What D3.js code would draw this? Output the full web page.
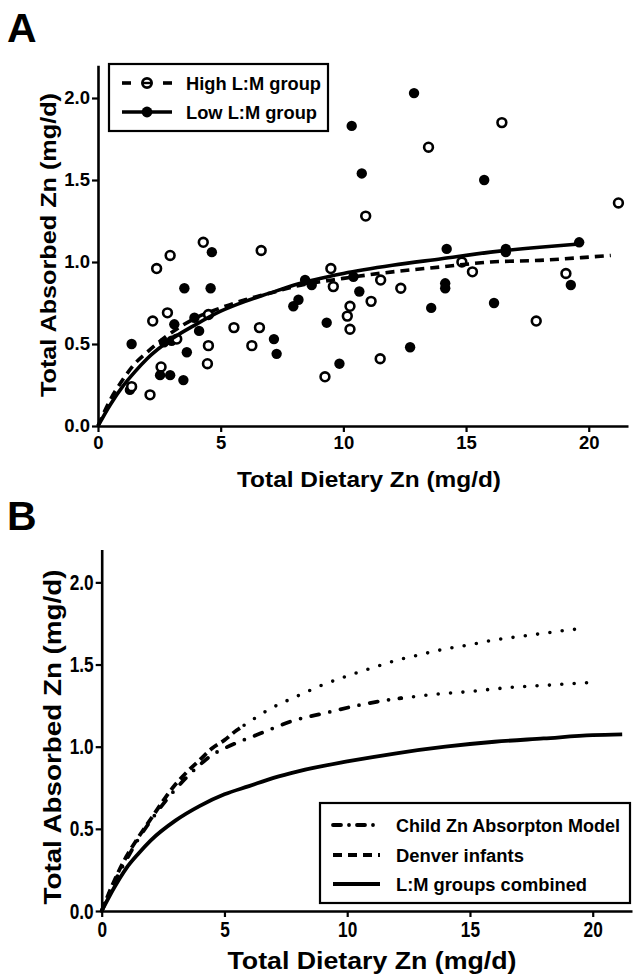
<!DOCTYPE html>
<html><head><meta charset="utf-8">
<script src="https://cdn.jsdelivr.net/npm/d3@7"></script>
<style>
html,body{margin:0;padding:0;background:#fff;}
svg text{font-family:"Liberation Sans",Arial,sans-serif;font-weight:bold;fill:#000;}
.nar{font-family:"Liberation Sans Narrow","Arial Narrow","Liberation Sans",sans-serif;}
</style></head>
<body>
<svg id="c" width="638" height="978"></svg>
<script>
// ---------- DATA: Panel A scatter ----------
const highX = [4.29,6.65,2.94,2.39,2.83,2.23,4.50,5.54,6.58,3.21,4.50,6.27,2.57,4.46,2.12,1.37,13.47,10.91,9.49,9.59,11.52,12.34,11.13,10.27,10.16,10.27,9.25,11.50,14.83,16.46,21.21,15.26,17.86,19.07];
const highY = [1.12,1.07,1.04,0.96,0.69,0.64,0.68,0.60,0.60,0.53,0.49,0.49,0.36,0.38,0.19,0.24,1.70,1.28,0.96,0.85,0.89,0.84,0.76,0.73,0.67,0.59,0.30,0.41,1.00,1.85,1.36,0.94,0.64,0.93];
const lowX = [4.64,3.52,4.59,3.11,3.93,4.12,1.37,2.69,3.00,3.62,2.53,2.94,3.48,1.30,12.88,10.34,10.75,14.21,8.44,8.71,10.41,10.65,8.17,7.96,9.32,7.17,7.28,9.84,12.72,13.58,14.15,14.15,15.74,16.62,16.62,19.61,16.14,19.27];
const lowY = [1.06,0.84,0.84,0.62,0.66,0.58,0.50,0.51,0.52,0.45,0.31,0.31,0.28,0.22,2.03,1.83,1.54,1.08,0.89,0.86,0.91,0.82,0.77,0.73,0.63,0.53,0.44,0.38,0.48,0.72,0.87,0.84,1.50,1.08,1.06,1.12,0.75,0.86];

// Panel A fitted curves
const fitHighX = [0,0.5,1,1.5,2,3,4,5,6,7,8,10,12,14,16,18,20,20.9];
const fitHighY = [0,0.16,0.28,0.38,0.45,0.57,0.66,0.72,0.77,0.81,0.85,0.90,0.94,0.97,1.00,1.01,1.03,1.04];
const fitLowX = [0,0.5,1,1.5,2,3,4,5,6,7,8,10,12,14,16,18,19.6];
const fitLowY = [0,0.13,0.24,0.33,0.41,0.53,0.62,0.70,0.76,0.81,0.86,0.93,0.98,1.02,1.06,1.09,1.11];

// ---------- DATA: Panel B curves ----------
const childX = [0,0.5,1,1.5,2,2.5,3,3.5,4,4.5,5,5.77,6.45,6.86,7.67,9.17,10.52,11.88,12.2];
const childY = [0,0.17,0.31,0.44,0.55,0.65,0.74,0.82,0.89,0.95,0.99,1.04,1.08,1.105,1.152,1.207,1.254,1.289,1.295];
const childExtX = [12.2,14.03,14.6,16.7,18.26,19.82];
const childExtY = [1.295,1.325,1.331,1.361,1.375,1.39];
const denverX = [0,0.5,1,1.5,2,2.5,3,3.5,4,4.5,5,5.5,5.8];
const denverY = [0,0.18,0.33,0.45,0.56,0.67,0.77,0.85,0.92,0.99,1.04,1.10,1.13];
const denverExtX = [5.8,6.86,8,8.82,10,10.82,12,12.83,14,15,16,17,18,19,19.7];
const denverExtY = [1.13,1.23,1.31,1.365,1.43,1.47,1.525,1.555,1.595,1.62,1.65,1.67,1.69,1.71,1.72];
const combX = [0,0.5,1,1.5,2,3,4,5,6,7,8,10,12,14,16,18,20,21.2];
const combY = [0,0.14,0.26,0.35,0.43,0.55,0.64,0.71,0.76,0.81,0.85,0.91,0.96,1.00,1.03,1.05,1.07,1.075];

// ticks / labels
const xTicks = [0,5,10,15,20];
const yTicks = [0,0.5,1.0,1.5,2.0];
const legendA = ["High L:M group","Low L:M group"];
const legendB = ["Child Zn Absorpton Model","Denver infants","L:M groups combined"];
const xTitle = "Total Dietary Zn (mg/d)";
const yTitle = "Total Absorbed Zn (mg/d)";

const svg = d3.select("#c");
const zip = (xs,ys)=>xs.map((x,i)=>[x,ys[i]]);

function axes(g, x, y, cls, fs, narrow){
  const ax = g.append("g").attr("transform",`translate(0,${y(0)})`)
    .call(d3.axisBottom(x).tickValues(xTicks).tickFormat(d3.format("d")).tickSize(6).tickSizeOuter(0).tickPadding(4));
  const ay = g.append("g").attr("transform",`translate(${x(0)},0)`)
    .call(d3.axisLeft(y).tickValues(yTicks).tickFormat(d3.format(".1f")).tickSize(6).tickSizeOuter(0).tickPadding(2));
  [ax,ay].forEach(a=>{
    a.select(".domain").attr("stroke","#000").attr("stroke-width",2.6);
    a.selectAll(".tick line").attr("stroke","#000").attr("stroke-width",2.2);
    a.selectAll(".tick text").attr("class",cls).style("font-size",fs+"px").attr("fill","#000");
  });
  if(narrow){
    ax.selectAll(".tick text").attr("textLength",d=>String(d).length*9.6).attr("lengthAdjust","spacingAndGlyphs");
    ay.selectAll(".tick text").attr("textLength",24).attr("lengthAdjust","spacingAndGlyphs");
  }
  return [ax,ay];
}

// ================= Panel A =================
const xA = d3.scaleLinear().domain([0,21.6]).range([98,628]);
const yA = d3.scaleLinear().domain([0,2.2]).range([426,65.2]);
const gA = svg.append("g");
svg.append("text").attr("x",7).attr("y",42).style("font-size","41px").text("A");

const lineA = d3.line().x(d=>xA(d[0])).y(d=>yA(d[1])).curve(d3.curveMonotoneX);

// points
gA.selectAll("circle.low").data(zip(lowX,lowY)).join("circle")
  .attr("cx",d=>xA(d[0])).attr("cy",d=>yA(d[1])).attr("r",5.2).attr("fill","#000");
gA.selectAll("circle.high").data(zip(highX,highY)).join("circle")
  .attr("cx",d=>xA(d[0])).attr("cy",d=>yA(d[1])).attr("r",4.4)
  .attr("fill","#fff").attr("stroke","#000").attr("stroke-width",2.6);

gA.append("path").datum(zip(fitLowX,fitLowY)).attr("d",lineA)
  .attr("fill","none").attr("stroke","#000").attr("stroke-width",3.6);
gA.append("path").datum(zip(fitHighX,fitHighY)).attr("d",lineA)
  .attr("fill","none").attr("stroke","#000").attr("stroke-width",3.6).attr("stroke-dasharray","9,6");

axes(gA, xA, yA, "", 18.5, false);

svg.append("text").attr("x",369).attr("y",487).attr("text-anchor","middle")
  .style("font-size","22px").attr("textLength",264).attr("lengthAdjust","spacingAndGlyphs").text(xTitle);
svg.append("text").attr("transform","translate(56,245) rotate(-90)").attr("text-anchor","middle")
  .style("font-size","22px").attr("textLength",304).attr("lengthAdjust","spacingAndGlyphs").text(yTitle);

// legend A
const lgA = svg.append("g");
lgA.append("rect").attr("x",109).attr("y",64).attr("width",219).attr("height",67)
  .attr("fill","#fff").attr("stroke","#000").attr("stroke-width",2.2);
[[83,true],[112,false]].forEach(([yy,open],i)=>{
  if(open){
    [[122,131],[163,172]].forEach(([a,b])=>lgA.append("line").attr("x1",a).attr("x2",b).attr("y1",yy).attr("y2",yy)
      .attr("stroke","#000").attr("stroke-width",3.6));
    lgA.append("circle").attr("cx",147).attr("cy",yy).attr("r",4.6).attr("fill","#fff").attr("stroke","#000").attr("stroke-width",2.8);
    lgA.append("line").attr("x1",143).attr("x2",151).attr("y1",yy).attr("y2",yy).attr("stroke","#000").attr("stroke-width",2.4);
  } else {
    lgA.append("line").attr("x1",122).attr("x2",172).attr("y1",yy).attr("y2",yy).attr("stroke","#000").attr("stroke-width",3.6);
    lgA.append("circle").attr("cx",147).attr("cy",yy).attr("r",5.4).attr("fill","#000");
  }
  lgA.append("text").attr("x",186).attr("y",yy+6.5).style("font-size","17.5px")
    .attr("textLength",i==0?135:131).attr("lengthAdjust","spacingAndGlyphs").text(legendA[i]);
});

// ================= Panel B =================
const xB = d3.scaleLinear().domain([0,21.6]).range([101.7,632]);
const yB = d3.scaleLinear().domain([0,2.2]).range([911,549.5]);
const gB = svg.append("g");
svg.append("text").attr("x",7).attr("y",530).style("font-size","41px").text("B");
const lineB = d3.line().x(d=>xB(d[0])).y(d=>yB(d[1])).curve(d3.curveMonotoneX);

const dotStyle = p=>p.attr("fill","none").attr("stroke","#000").attr("stroke-width",3.6)
  .attr("stroke-linecap","round").attr("stroke-dasharray","0,12.4");
gB.append("path").datum(zip(denverExtX,denverExtY)).attr("d",lineB).call(dotStyle);
gB.append("path").datum(zip(childExtX,childExtY)).attr("d",lineB).call(dotStyle);
gB.append("path").datum(zip(denverX,denverY)).attr("d",lineB)
  .attr("fill","none").attr("stroke","#000").attr("stroke-width",3.8).attr("stroke-dasharray","9,5");
gB.append("path").datum(zip(childX,childY)).attr("d",lineB)
  .attr("fill","none").attr("stroke","#000").attr("stroke-width",3.8)
  .attr("stroke-linecap","round").attr("stroke-dasharray","8,11,0,11");
gB.append("path").datum(zip(combX,combY)).attr("d",lineB)
  .attr("fill","none").attr("stroke","#000").attr("stroke-width",3.8);

axes(gB, xB, yB, "nar", 22, true);

svg.append("text").attr("class","nar").attr("x",372).attr("y",969).attr("text-anchor","middle")
  .style("font-size","23px").attr("textLength",289).attr("lengthAdjust","spacingAndGlyphs").text(xTitle);
svg.append("text").attr("class","nar").attr("transform","translate(61,737) rotate(-90)").attr("text-anchor","middle")
  .style("font-size","24px").attr("textLength",335).attr("lengthAdjust","spacingAndGlyphs").text(yTitle);

// legend B
const lgB = svg.append("g");
lgB.append("rect").attr("x",320).attr("y",803).attr("width",310).attr("height",100)
  .attr("fill","#fff").attr("stroke","#000").attr("stroke-width",2.2);
const lbY=[825,855,884], lbW=[224,128,191], lbDash=["8,8,0,8","9,6",null];
lbY.forEach((yy,i)=>{
  lgB.append("line").attr("x1",333).attr("x2",380).attr("y1",yy).attr("y2",yy)
    .attr("stroke","#000").attr("stroke-width",3.8).attr("stroke-linecap",i==0?"round":"butt")
    .attr("stroke-dasharray",lbDash[i]);
  lgB.append("text").attr("class","nar").attr("x",396).attr("y",yy+7).style("font-size","18px")
    .attr("textLength",lbW[i]).attr("lengthAdjust","spacingAndGlyphs").text(legendB[i]);
});
</script>
</body></html>
